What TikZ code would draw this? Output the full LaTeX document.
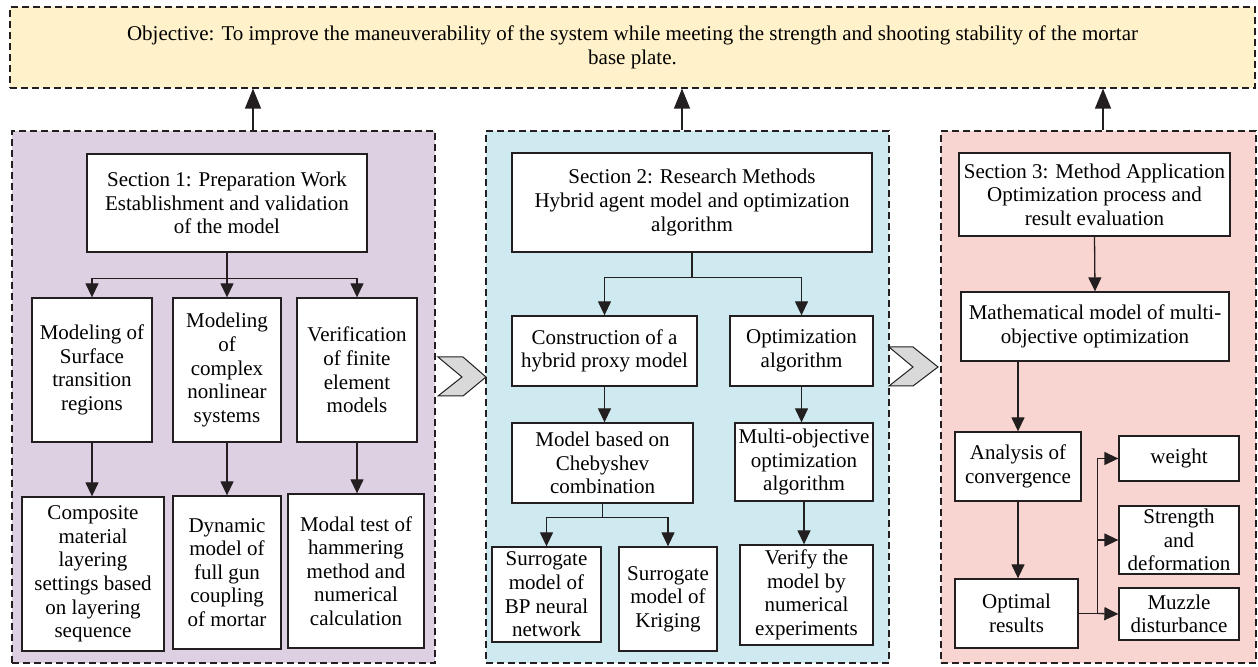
\documentclass[tikz,border=0pt]{standalone}
\usepackage{fontspec}
\setmainfont{Liberation Serif}
\usetikzlibrary{arrows.meta, positioning, calc}
\definecolor{objfill}{HTML}{FFF1C9}
\definecolor{purplefill}{HTML}{DCD0E2}
\definecolor{bluefill}{HTML}{CEE9EF}
\definecolor{pinkfill}{HTML}{F9D5D1}
\definecolor{chevgray}{HTML}{D9D9D9}
\definecolor{linegray}{HTML}{231F20}
\tikzset{
  txt/.style={font=\fontsize{10.5}{11.8}\selectfont},
  panel/.style={draw=linegray, line width=0.6pt, dash pattern=on 3.5pt off 2pt, inner sep=0pt},
  box/.style={txt, draw=linegray, fill=white, line width=0.65pt, align=center, inner sep=1pt},
  arr/.style={draw=linegray, line width=0.65pt, -{Triangle[length=7pt,width=6.5pt]}},
  uparr/.style={draw=linegray, line width=0.65pt, -{Triangle[length=10pt,width=8pt]}},
  chev/.style={draw=linegray, fill=chevgray, line width=0.5pt, line join=miter}
}

\begin{document}
\begin{tikzpicture}[x=0.5pt, y=-0.5pt]
  \useasboundingbox (0,0) rectangle (1258,667);

  % objective and the three panels
  \node[panel, fill=objfill, minimum width=622.5pt, minimum height=40.5pt, txt, align=center] (obj) at (632.5,47.5)
    {Objective: To improve the maneuverability of the system while meeting the strength and shooting stability of the mortar\\base plate.};
  \node[panel, fill=purplefill, minimum width=211.5pt, minimum height=266pt] (p1) at (223.5,397) {};
  \node[panel, fill=bluefill, minimum width=201.5pt, minimum height=266pt] (p2) at (687.5,397) {};
  \node[panel, fill=pinkfill, minimum width=157.5pt, minimum height=266pt] (p3) at (1098.5,397) {};

  \draw[uparr] ([xshift=14.75pt]p1.north) -- ([xshift=14.75pt]p1.north |- obj.south);
  \draw[uparr] ([xshift=-2.75pt]p2.north) -- ([xshift=-2.75pt]p2.north |- obj.south);
  \draw[uparr] ([xshift=2.25pt]p3.north) -- ([xshift=2.25pt]p3.north |- obj.south);

  \draw[chev] (438,357) -- (463,357) -- (486,377) -- (463,396) -- (438,396) -- (462,377) -- cycle;
  \draw[chev] (889,347) -- (913,347) -- (938,367) -- (913,386) -- (889,386) -- (913,367) -- cycle;

  % section 1
  \node[box, minimum width=140pt, minimum height=49pt] (s1) at (227,203) {Section 1: Preparation Work\\Establishment and validation\\of the model};
  \node[box, minimum width=60pt, minimum height=72pt] (surf) at (92,370) {Modeling of\\Surface\\transition\\regions};
  \node[box, minimum width=54pt, minimum height=72pt] (nonlin) at (227,370) {Modeling\\of\\complex\\nonlinear\\systems};
  \node[box, minimum width=60pt, minimum height=72pt] (verif) at (357,370) {Verification\\of finite\\element\\models};
  \node[box, minimum width=71pt, minimum height=77pt] (layer) at (93,574) {Composite\\material\\layering\\settings based\\on layering\\sequence};
  \node[box, minimum width=54pt, minimum height=76.5pt] (dyn) at (227,572.5) {Dynamic\\model of\\full gun\\coupling\\of mortar};
  \node[box, minimum width=68pt, minimum height=77pt] (modal) at (356,571) {Modal test of\\hammering\\method and\\numerical\\calculation};

  \draw[arr] (s1.south) -- ++(0,26) -| (surf.north);
  \draw[arr] (s1.south) -- (nonlin.north);
  \draw[arr] (s1.south) -- ++(0,26) -| (verif.north);
  \draw[arr] (surf.south) -- (surf.south |- layer.north);
  \draw[arr] (nonlin.south) -- (nonlin.south |- dyn.north);
  \draw[arr] (verif.south) -- (verif.south |- modal.north);

  % section 2
  \node[box, minimum width=180pt, minimum height=49.5pt] (s2) at (692,202.5) {Section 2: Research Methods\\Hybrid agent model and optimization\\algorithm};
  \node[box, minimum width=92.5pt, minimum height=35pt] (proxy) at (604.5,351) {Construction of a\\hybrid proxy model};
  \node[box, minimum width=71.5pt, minimum height=35pt] (optalg) at (801.5,351) {Optimization\\algorithm};
  \node[box, minimum width=90.5pt, minimum height=40pt] (cheb) at (602.5,463) {Model based on\\Chebyshev\\combination};
  \node[box, minimum width=54.5pt, minimum height=47.5pt] (bp) at (546.5,594.5) {Surrogate\\model of\\BP neural\\network};
  \node[box, minimum width=49pt, minimum height=52pt] (krig) at (668,599) {Surrogate\\model of\\Kriging};
  \node[box, minimum width=69pt, minimum height=39pt] (multi) at (804,462) {Multi-objective\\optimization\\algorithm};
  \node[box, minimum width=66.5pt, minimum height=50pt] (numexp) at (806.5,595) {Verify the\\model by\\numerical\\experiments};

  \draw[arr] (s2.south) -- ++(0,25) -| (proxy.north);
  \draw[arr] (s2.south) -- ++(0,25) -| (optalg.north);
  \draw[arr] (proxy.south) -- (proxy.south |- cheb.north);
  \draw[arr] (optalg.south) -- (optalg.south |- multi.north);
  \draw[arr] (cheb.south) -- ++(0,14) -| (bp.north);
  \draw[arr] (cheb.south) -- ++(0,14) -| (krig.north);
  \draw[arr] (multi.south) -- (multi.south |- numexp.north);

  % section 3
  \node[box, minimum width=135.5pt, minimum height=41.5pt] (s3) at (1094.5,194.5) {Section 3: Method Application\\Optimization process and\\result evaluation};
  \node[box, minimum width=134pt, minimum height=34.5pt] (math) at (1095,326.5) {Mathematical model of multi-\\objective optimization};
  \node[box, minimum width=63pt, minimum height=34.5pt] (conv) at (1018,466.5) {Analysis of\\convergence};
  \node[box, minimum width=61.5pt, minimum height=34.5pt] (result) at (1016.5,613.5) {Optimal\\results};
  \node[box, minimum width=60pt, minimum height=22.5pt] (weight) at (1179,458.5) {weight};
  \node[box, minimum width=60pt, minimum height=34pt] (strength) at (1179,540) {Strength\\and\\deformation};
  \node[box, minimum width=60pt, minimum height=26pt] (muzzle) at (1179,614) {Muzzle\\disturbance};

  \draw[arr] (s3.south) -- (math.north);
  \draw[arr] (math.south -| conv.north) -- (conv.north);
  \draw[arr] (conv.south) -- (conv.south |- result.north);
  \draw[line width=0.65pt, draw=linegray] (result.east) -- ++(19,0) coordinate (split);
  \draw[arr] (split) |- (weight.west);
  \draw[arr] (split) |- (strength.west);
  \draw[arr] (split) -- (muzzle.west);
\end{tikzpicture}
\end{document}
